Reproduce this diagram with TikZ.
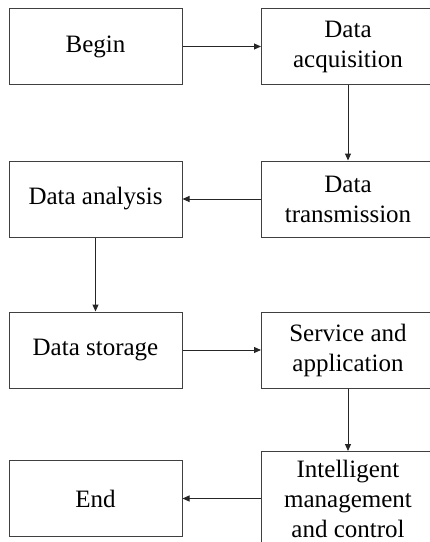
\documentclass[tikz,border=0pt]{standalone}
\usepackage{fontspec}
\setmainfont{Liberation Serif}
\usetikzlibrary{arrows.meta}
\begin{document}
\begin{tikzpicture}[x=1pt,y=-1pt,
  box/.style={draw=black!75,line width=1pt,rectangle,minimum width=173pt,minimum height=76pt,
    inner sep=0pt,align=center,font=\fontsize{25pt}{30pt}\selectfont},
  conn/.style={draw=black!85,line width=1pt,-{Triangle[length=7pt,width=6pt]}}]
\useasboundingbox (0,0) rectangle (430,542);
\node[box] (begin) at (95.5,46.5) {Begin};
\node[box] (acq) at (348,46.5) {Data\\acquisition};
\node[box] (ana) at (95.5,199) {Data analysis};
\node[box] (tra) at (348,199) {Data\\transmission};
\node[box] (sto) at (95.5,350) {Data storage};
\node[box] (ser) at (348,350) {Service and\\application};
\node[box] (end) at (95.5,498.5) {End};
\node[box,minimum height=94pt] (int) at (348,498.5) {Intelligent\\management\\and control};
\draw[conn] (begin) -- (acq);
\draw[conn] (acq) -- (tra);
\draw[conn] (tra) -- (ana);
\draw[conn] (ana) -- (sto);
\draw[conn] (sto) -- (ser);
\draw[conn] (ser) -- (int);
\draw[conn] (int.west |- end.east) -- (end.east);
\end{tikzpicture}
\end{document}
